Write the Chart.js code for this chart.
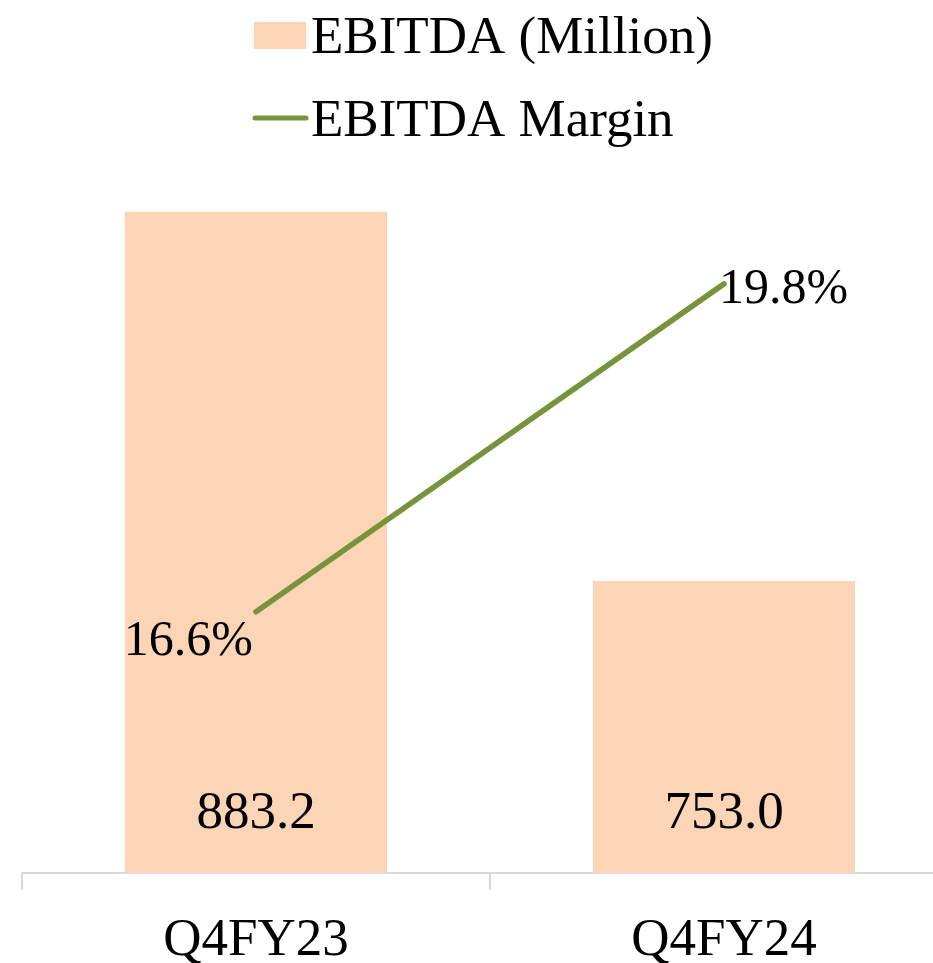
<!DOCTYPE html>
<html>
<head>
<meta charset="utf-8">
<script src="https://cdn.jsdelivr.net/npm/chart.js@4.4.1/dist/chart.umd.min.js"></script>
<style>
  html, body { margin: 0; padding: 0; background: #fff; overflow: hidden; }
  #wrap { width: 933px; height: 963px; overflow: hidden; }
</style>
</head>
<body>
<div id="wrap"><canvas id="chart" width="980" height="993"></canvas></div>
<script>
// Dane wykresu
const quarters = ["Q4FY23", "Q4FY24"];
const ebitdaMillion = [883.2, 753.0];
const ebitdaMargin = [16.6, 19.8];
const seriesNames = ["EBITDA (Million)", "EBITDA Margin"];

const SERIF = '"Liberation Serif", "Times New Roman", serif';
const barColor = "#FBD5B5";
const lineColor = "#77933C";

// Etykiety danych + legenda rysowane ręcznie
const labelsPlugin = {
    id: "labelsPlugin",
    afterDatasetsDraw(chart) {
        const ctx = chart.ctx;
        const bottom = chart.chartArea.bottom;
        ctx.save();
        ctx.fillStyle = "#000";
        ctx.textBaseline = "alphabetic";

        // wartości słupków – przy podstawie
        ctx.font = "53px " + SERIF;
        ctx.textAlign = "center";
        chart.getDatasetMeta(1).data.forEach((bar, i) => {
            ctx.fillText(ebitdaMillion[i].toFixed(1), bar.x, bottom - 45);
        });

        // marża
        ctx.font = "50px " + SERIF;
        const pts = chart.getDatasetMeta(0).data;
        ctx.textAlign = "right";
        ctx.fillText(ebitdaMargin[0].toFixed(1) + "%", pts[0].x - 3, pts[0].y + 43);
        ctx.textAlign = "left";
        ctx.fillText(ebitdaMargin[1].toFixed(1) + "%", pts[1].x - 5, pts[1].y + 19);

        // legenda
        ctx.font = "53px " + SERIF;
        ctx.fillStyle = barColor;
        ctx.fillRect(254, 22, 52, 27);
        ctx.strokeStyle = lineColor;
        ctx.lineWidth = 5;
        ctx.lineCap = "round";
        ctx.beginPath();
        ctx.moveTo(255, 118);
        ctx.lineTo(306, 118);
        ctx.stroke();
        ctx.fillStyle = "#000";
        ctx.textAlign = "left";
        ctx.fillText(seriesNames[0], 311, 53);
        ctx.fillText(seriesNames[1], 311, 136);
        ctx.restore();
    }
};

new Chart(document.getElementById("chart"), {
    data: {
        labels: quarters,
        datasets: [
            {
                type: "line",
                label: seriesNames[1],
                data: ebitdaMargin,
                yAxisID: "y1",
                borderColor: lineColor,
                borderWidth: 5.5,
                borderCapStyle: "round",
                pointRadius: 0,
                tension: 0,
                order: 0
            },
            {
                type: "bar",
                label: seriesNames[0],
                data: ebitdaMillion,
                yAxisID: "y",
                backgroundColor: barColor,
                barPercentage: 0.56,
                categoryPercentage: 1,
                order: 1
            }
        ]
    },
    options: {
        responsive: false,
        animation: false,
        layout: { padding: { top: 164, left: 22, right: 22, bottom: 0 } },
        plugins: {
            legend: { display: false },
            tooltip: { enabled: false }
        },
        scales: {
            x: {
                grid: {
                    offset: true,
                    drawOnChartArea: false,
                    drawTicks: true,
                    tickLength: 17,
                    color: "#D9D9D9",
                    lineWidth: 2
                },
                border: { display: true, color: "#D9D9D9", width: 2 },
                ticks: {
                    color: "#000",
                    padding: 25,
                    font: { family: SERIF, size: 53, lineHeight: 1.0 }
                }
            },
            y: { display: false, min: 650, max: 900 },
            y1: { display: false, min: 14.05, max: 20.97, position: "right" }
        }
    },
    plugins: [labelsPlugin]
});
</script>
</body>
</html>
